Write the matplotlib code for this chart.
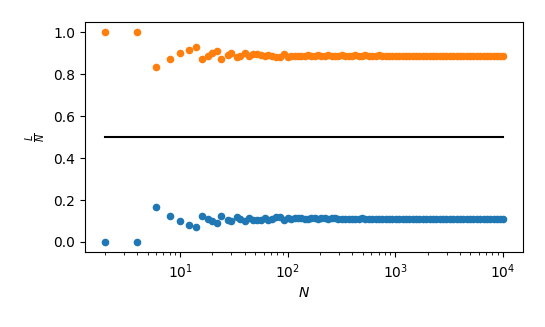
import matplotlib
matplotlib.use("Agg")
import matplotlib.pyplot as plt
import numpy as np

# sample sizes N
N = [2, 4, 6, 8, 10, 12, 14, 16, 18, 20, 22, 24, 28, 30, 34, 36, 40, 44, 48,
     52, 56, 62, 66, 72, 78, 84, 92, 100, 108, 116, 124, 134, 144, 154, 166,
     178, 192, 206, 222, 238, 256, 276, 296, 318, 342, 368, 396, 426, 458,
     492, 528, 568, 610, 656, 706, 758, 816, 876, 942, 1012, 1088, 1170, 1258,
     1352, 1454, 1562, 1680, 1806, 1942, 2086, 2244, 2412, 2592, 2786, 2996,
     3220, 3462, 3720, 4000, 4300, 4622, 4968, 5342, 5742, 6172, 6636, 7134,
     7668, 8244, 8862, 9526, 10000]

# lower branch of L/N
low = [0.0, 0.0, 0.167, 0.125, 0.1, 0.083, 0.071, 0.125, 0.111, 0.1, 0.091,
       0.125, 0.107, 0.1, 0.118, 0.111, 0.1, 0.114, 0.104, 0.104, 0.107, 0.113,
       0.106, 0.111, 0.118, 0.119, 0.105, 0.116, 0.111, 0.112, 0.113, 0.112,
       0.111, 0.110, 0.114, 0.112, 0.109, 0.112, 0.113, 0.109, 0.113, 0.112,
       0.111, 0.110, 0.111, 0.111, 0.111, 0.110, 0.111, 0.112, 0.110, 0.111,
       0.111, 0.111, 0.110, 0.111, 0.111, 0.111, 0.111, 0.111, 0.111, 0.111,
       0.111, 0.111, 0.111, 0.111, 0.111, 0.111, 0.111, 0.111, 0.111, 0.111,
       0.111, 0.111, 0.111, 0.111, 0.111, 0.111, 0.111, 0.111, 0.111, 0.111,
       0.111, 0.111, 0.111, 0.111, 0.111, 0.111, 0.111, 0.111, 0.111, 0.111]

# upper branch of L/N
high = [1.0, 1.0, 0.833, 0.875, 0.9, 0.917, 0.929, 0.875, 0.889, 0.9, 0.909,
        0.875, 0.893, 0.9, 0.882, 0.889, 0.9, 0.886, 0.896, 0.896, 0.893, 0.887,
        0.894, 0.889, 0.882, 0.881, 0.895, 0.884, 0.889, 0.888, 0.887, 0.888,
        0.889, 0.890, 0.886, 0.888, 0.891, 0.888, 0.887, 0.891, 0.887, 0.888,
        0.889, 0.890, 0.889, 0.889, 0.889, 0.890, 0.889, 0.888, 0.890, 0.889,
        0.889, 0.889, 0.890, 0.889, 0.889, 0.889, 0.889, 0.889, 0.889, 0.889,
        0.889, 0.889, 0.889, 0.889, 0.889, 0.889, 0.889, 0.889, 0.889, 0.889,
        0.889, 0.889, 0.889, 0.889, 0.889, 0.889, 0.889, 0.889, 0.889, 0.889,
        0.889, 0.889, 0.889, 0.889, 0.889, 0.889, 0.889, 0.889, 0.889, 0.889]

half = 0.5

fig, ax = plt.subplots(figsize=(5.45, 3.27), dpi=100)
fig.subplots_adjust(left=0.156, right=0.959, bottom=0.228, top=0.933)

ax.scatter(N, low, s=20, color="C0")
ax.scatter(N, high, s=20, color="C1")
ax.plot([N[0], N[-1]], [half, half], color="k")

ax.set_xscale("log")
ax.set_xlabel("$N$")
ax.set_ylabel(r"$\frac{L}{N}$")

fig.savefig("out.png", dpi=100)
